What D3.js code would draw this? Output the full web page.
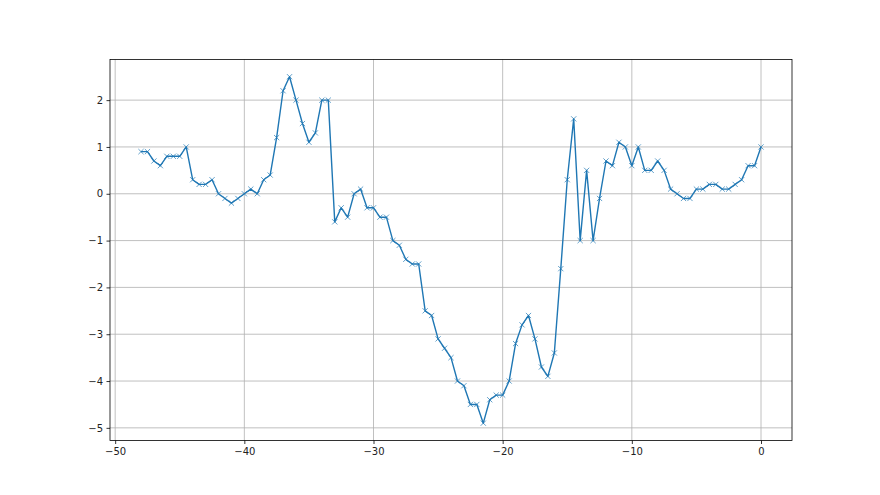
<!DOCTYPE html>
<html>
<head>
<meta charset="utf-8">
<script src="https://cdn.jsdelivr.net/npm/d3@7"></script>
<style>
  html, body { margin: 0; padding: 0; background: #fff; }
  svg { display: block; }
  .tick text { font-family: "DejaVu Sans", sans-serif; font-size: 10px; fill: #222; }
</style>
</head>
<body>
<div id="chart"></div>
<script>
  // x positions of the samples
  var xValues = [
    -48, -47.5, -47, -46.5, -46, -45.5, -45, -44.5, -44, -43.5,
    -43, -42.5, -42, -41.5, -41, -40.5, -40, -39.5, -39, -38.5,
    -38, -37.5, -37, -36.5, -36, -35.5, -35, -34.5, -34, -33.5,
    -33, -32.5, -32, -31.5, -31, -30.5, -30, -29.5, -29, -28.5,
    -28, -27.5, -27, -26.5, -26, -25.5, -25, -24.5, -24, -23.5,
    -23, -22.5, -22, -21.5, -21, -20.5, -20, -19.5, -19, -18.5,
    -18, -17.5, -17, -16.5, -16, -15.5, -15, -14.5, -14, -13.5,
    -13, -12.5, -12, -11.5, -11, -10.5, -10, -9.5, -9, -8.5,
    -8, -7.5, -7, -6.5, -6, -5.5, -5, -4.5, -4, -3.5,
    -3, -2.5, -2, -1.5, -1, -0.5, 0
  ];

  // y values
  var yValues = [
    0.9, 0.9, 0.7, 0.6, 0.8, 0.8, 0.8, 1.0, 0.3, 0.2,
    0.2, 0.3, 0.0, -0.1, -0.2, -0.1, 0.0, 0.1, 0.0, 0.3,
    0.4, 1.2, 2.2, 2.5, 2.0, 1.5, 1.1, 1.3, 2.0, 2.0,
    -0.6, -0.3, -0.5, 0.0, 0.1, -0.3, -0.3, -0.5, -0.5, -1.0,
    -1.1, -1.4, -1.5, -1.5, -2.5, -2.6, -3.1, -3.3, -3.5, -4.0,
    -4.1, -4.5, -4.5, -4.9, -4.4, -4.3, -4.3, -4.0, -3.2, -2.8,
    -2.6, -3.1, -3.7, -3.9, -3.4, -1.6, 0.3, 1.6, -1.0, 0.5,
    -1.0, -0.1, 0.7, 0.6, 1.1, 1.0, 0.6, 1.0, 0.5, 0.5,
    0.7, 0.5, 0.1, 0.0, -0.1, -0.1, 0.1, 0.1, 0.2, 0.2,
    0.1, 0.1, 0.2, 0.3, 0.6, 0.6, 1.0
  ];

  var xTicks = [-50, -40, -30, -20, -10, 0];
  var yTicks = [-5, -4, -3, -2, -1, 0, 1, 2];

  var width = 880,
      height = 495,
      margin = { top: 59.4, right: 88, bottom: 54.5, left: 110 };

  var data = xValues.map(function(x, i) { return { x: x, y: yValues[i] }; });

  var svg = d3.select('#chart')
    .append('svg')
    .attr('width', width)
    .attr('height', height);

  var innerW = width - margin.left - margin.right,
      innerH = height - margin.top - margin.bottom;

  // matplotlib style 5% margins
  var xExt = d3.extent(xValues), yExt = d3.extent(yValues);
  var xPad = (xExt[1] - xExt[0]) * 0.05, yPad = (yExt[1] - yExt[0]) * 0.05;

  var x = d3.scaleLinear()
    .domain([xExt[0] - xPad, xExt[1] + xPad])
    .range([margin.left, margin.left + innerW]);

  var y = d3.scaleLinear()
    .domain([yExt[0] - yPad, yExt[1] + yPad])
    .range([margin.top + innerH, margin.top]);

  var fmt = function(d) { return String(d).replace('-', '\u2212'); };

  /* ------- GRID ------- */
  var grid = svg.append('g').attr('class', 'grid');
  grid.selectAll('line.gx')
    .data(xTicks)
    .enter().append('line')
    .attr('class', 'gx')
    .attr('x1', function(d) { return x(d); })
    .attr('x2', function(d) { return x(d); })
    .attr('y1', margin.top)
    .attr('y2', margin.top + innerH)
    .attr('stroke', '#b0b0b0')
    .attr('stroke-width', 0.8);
  grid.selectAll('line.gy')
    .data(yTicks)
    .enter().append('line')
    .attr('class', 'gy')
    .attr('x1', margin.left)
    .attr('x2', margin.left + innerW)
    .attr('y1', function(d) { return y(d); })
    .attr('y2', function(d) { return y(d); })
    .attr('stroke', '#b0b0b0')
    .attr('stroke-width', 0.8);

  /* ------- LINE ------- */
  var line = d3.line()
    .x(function(d) { return x(d.x); })
    .y(function(d) { return y(d.y); });

  svg.append('path')
    .datum(data)
    .attr('d', line)
    .attr('fill', 'none')
    .attr('stroke', '#1f77b4')
    .attr('stroke-width', 1.4)
    .attr('stroke-linejoin', 'round');

  /* ------- MARKERS ------- */
  var m = 2.6;
  svg.append('g')
    .selectAll('path')
    .data(data)
    .enter().append('path')
    .attr('d', function(d) {
      var cx = x(d.x), cy = y(d.y);
      return 'M' + (cx - m) + ',' + (cy - m) + 'L' + (cx + m) + ',' + (cy + m) +
             'M' + (cx - m) + ',' + (cy + m) + 'L' + (cx + m) + ',' + (cy - m);
    })
    .attr('stroke', '#1f77b4')
    .attr('stroke-opacity', 0.7)
    .attr('stroke-width', 1)
    .attr('fill', 'none');

  /* ------- AXES ------- */
  var xAxis = d3.axisBottom(x).tickValues(xTicks).tickSize(3.5).tickPadding(3.5).tickFormat(fmt);
  var yAxis = d3.axisLeft(y).tickValues(yTicks).tickSize(3.5).tickPadding(3.5).tickFormat(fmt);

  svg.append('g')
    .attr('transform', 'translate(0,' + (margin.top + innerH) + ')')
    .call(xAxis)
    .call(function(g) { g.select('.domain').remove(); })
    .selectAll('.tick line').attr('stroke', '#000').attr('stroke-width', 0.8);

  svg.append('g')
    .attr('transform', 'translate(' + margin.left + ',0)')
    .call(yAxis)
    .call(function(g) { g.select('.domain').remove(); })
    .selectAll('.tick line').attr('stroke', '#000').attr('stroke-width', 0.8);

  // spines
  svg.append('rect')
    .attr('x', margin.left)
    .attr('y', margin.top)
    .attr('width', innerW)
    .attr('height', innerH)
    .attr('fill', 'none')
    .attr('stroke', '#000')
    .attr('stroke-width', 0.8);
</script>
</body>
</html>
